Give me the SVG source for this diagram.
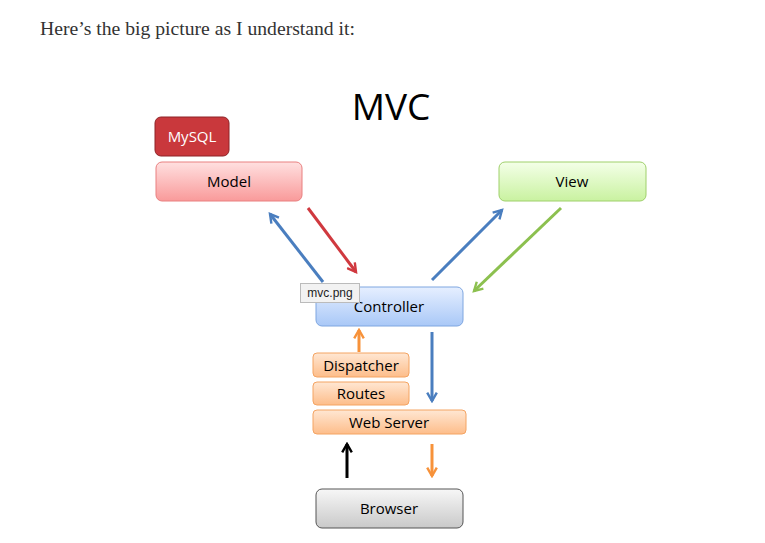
<svg xmlns="http://www.w3.org/2000/svg" width="765" height="543" viewBox="0 0 765 543">
<defs>
<style>
.lbl{font-family:"Open Sans","Liberation Sans",sans-serif;font-size:15px;fill:#000;text-anchor:middle}
.ln{fill:none;stroke-width:3}
</style>
<linearGradient id="gRed" x1="0" y1="0" x2="0" y2="1"><stop offset="0" stop-color="#ffe0e0"/><stop offset="1" stop-color="#f99a9a"/></linearGradient>
<linearGradient id="gGreen" x1="0" y1="0" x2="0" y2="1"><stop offset="0" stop-color="#f4ffe8"/><stop offset="1" stop-color="#c9f2a0"/></linearGradient>
<linearGradient id="gBlue" x1="0" y1="0" x2="0" y2="1"><stop offset="0" stop-color="#e6efff"/><stop offset="1" stop-color="#a9c8f7"/></linearGradient>
<linearGradient id="gOr" x1="0" y1="0" x2="0" y2="1"><stop offset="0" stop-color="#ffe7d3"/><stop offset="1" stop-color="#fdbd8a"/></linearGradient>
<linearGradient id="gGray" x1="0" y1="0" x2="0" y2="1"><stop offset="0" stop-color="#f7f7f7"/><stop offset="1" stop-color="#c9c9c9"/></linearGradient>
<marker id="aBlue" viewBox="0 0 10 10" refX="8" refY="5" markerWidth="4" markerHeight="4" orient="auto" markerUnits="strokeWidth"><polyline points="1,1 8,5 1,9" fill="none" stroke="#4a7ebf" stroke-width="2"/></marker>
<marker id="aRed" viewBox="0 0 10 10" refX="8" refY="5" markerWidth="4" markerHeight="4" orient="auto" markerUnits="strokeWidth"><polyline points="1,1 8,5 1,9" fill="none" stroke="#d0393f" stroke-width="2"/></marker>
<marker id="aGreen" viewBox="0 0 10 10" refX="8" refY="5" markerWidth="4" markerHeight="4" orient="auto" markerUnits="strokeWidth"><polyline points="1,1 8,5 1,9" fill="none" stroke="#8cc04f" stroke-width="2"/></marker>
<marker id="aOr" viewBox="0 0 10 10" refX="8" refY="5" markerWidth="4" markerHeight="4" orient="auto" markerUnits="strokeWidth"><polyline points="1,1 8,5 1,9" fill="none" stroke="#f7923a" stroke-width="2"/></marker>
<marker id="aBlack" viewBox="0 0 10 10" refX="8" refY="5" markerWidth="4" markerHeight="4" orient="auto" markerUnits="strokeWidth"><polyline points="1,1 8,5 1,9" fill="none" stroke="#000" stroke-width="2"/></marker>
</defs>
<rect width="765" height="543" fill="#fff"/>
<text x="40" y="35" font-family="'Liberation Serif','DejaVu Serif',serif" font-size="19" fill="#333" textLength="315" lengthAdjust="spacingAndGlyphs">Here’s the big picture as I understand it:</text>
<text x="391" y="120" font-family="'Open Sans','Liberation Sans',sans-serif" font-size="37" fill="#000" text-anchor="middle">MVC</text>

<g id="connectors">
<line class="ln" x1="323" y1="282" x2="270" y2="214" stroke="#4a7ebf" marker-end="url(#aBlue)"/>
<line class="ln" x1="308" y1="208" x2="356" y2="272" stroke="#d0393f" marker-end="url(#aRed)"/>
<line class="ln" x1="432" y1="280" x2="502" y2="210" stroke="#4a7ebf" marker-end="url(#aBlue)"/>
<line class="ln" x1="561" y1="208" x2="474" y2="291" stroke="#8cc04f" marker-end="url(#aGreen)"/>
<line class="ln" x1="359" y1="352" x2="359" y2="330" stroke="#f7923a" marker-end="url(#aOr)"/>
<line class="ln" x1="432" y1="332" x2="432" y2="401" stroke="#4a7ebf" marker-end="url(#aBlue)"/>
<line class="ln" x1="347" y1="478" x2="347" y2="444" stroke="#000" marker-end="url(#aBlack)"/>
<line class="ln" x1="432" y1="444" x2="432" y2="476" stroke="#f7923a" marker-end="url(#aOr)"/>
</g>

<g id="mysql"><rect x="155" y="117" width="74" height="39" rx="6" fill="#c9383c" stroke="#8e2326"/><text class="lbl" x="192" y="142" style="fill:#fff">MySQL</text></g>
<g id="model"><rect x="156" y="162" width="146" height="39" rx="6" fill="url(#gRed)" stroke="#e98080"/><text class="lbl" x="229" y="187">Model</text></g>
<g id="view"><rect x="499" y="162" width="147" height="39" rx="6" fill="url(#gGreen)" stroke="#9fd06b"/><text class="lbl" x="572" y="187">View</text></g>
<g id="controller"><rect x="316" y="287" width="147" height="39" rx="6" fill="url(#gBlue)" stroke="#7ea6e0"/><text class="lbl" x="389" y="312">Controller</text></g>
<g id="dispatcher"><rect x="313" y="353" width="96" height="24" rx="4" fill="url(#gOr)" stroke="#f4a463"/><text class="lbl" x="361" y="371">Dispatcher</text></g>
<g id="routes"><rect x="313" y="382" width="96" height="23" rx="4" fill="url(#gOr)" stroke="#f4a463"/><text class="lbl" x="361" y="399">Routes</text></g>
<g id="webserver"><rect x="313" y="410" width="153" height="24" rx="4" fill="url(#gOr)" stroke="#f4a463"/><text class="lbl" x="389" y="428">Web Server</text></g>
<g id="browser"><rect x="316" y="489" width="147" height="39" rx="6" fill="url(#gGray)" stroke="#555"/><text class="lbl" x="389" y="514">Browser</text></g>
<g id="tooltip"><rect x="300.5" y="283.5" width="59" height="19" fill="#f2f2f2" stroke="#bbb"/><text x="330" y="297" font-family="'Liberation Sans',Arial,sans-serif" font-size="12" fill="#222" text-anchor="middle">mvc.png</text></g>
</svg>
